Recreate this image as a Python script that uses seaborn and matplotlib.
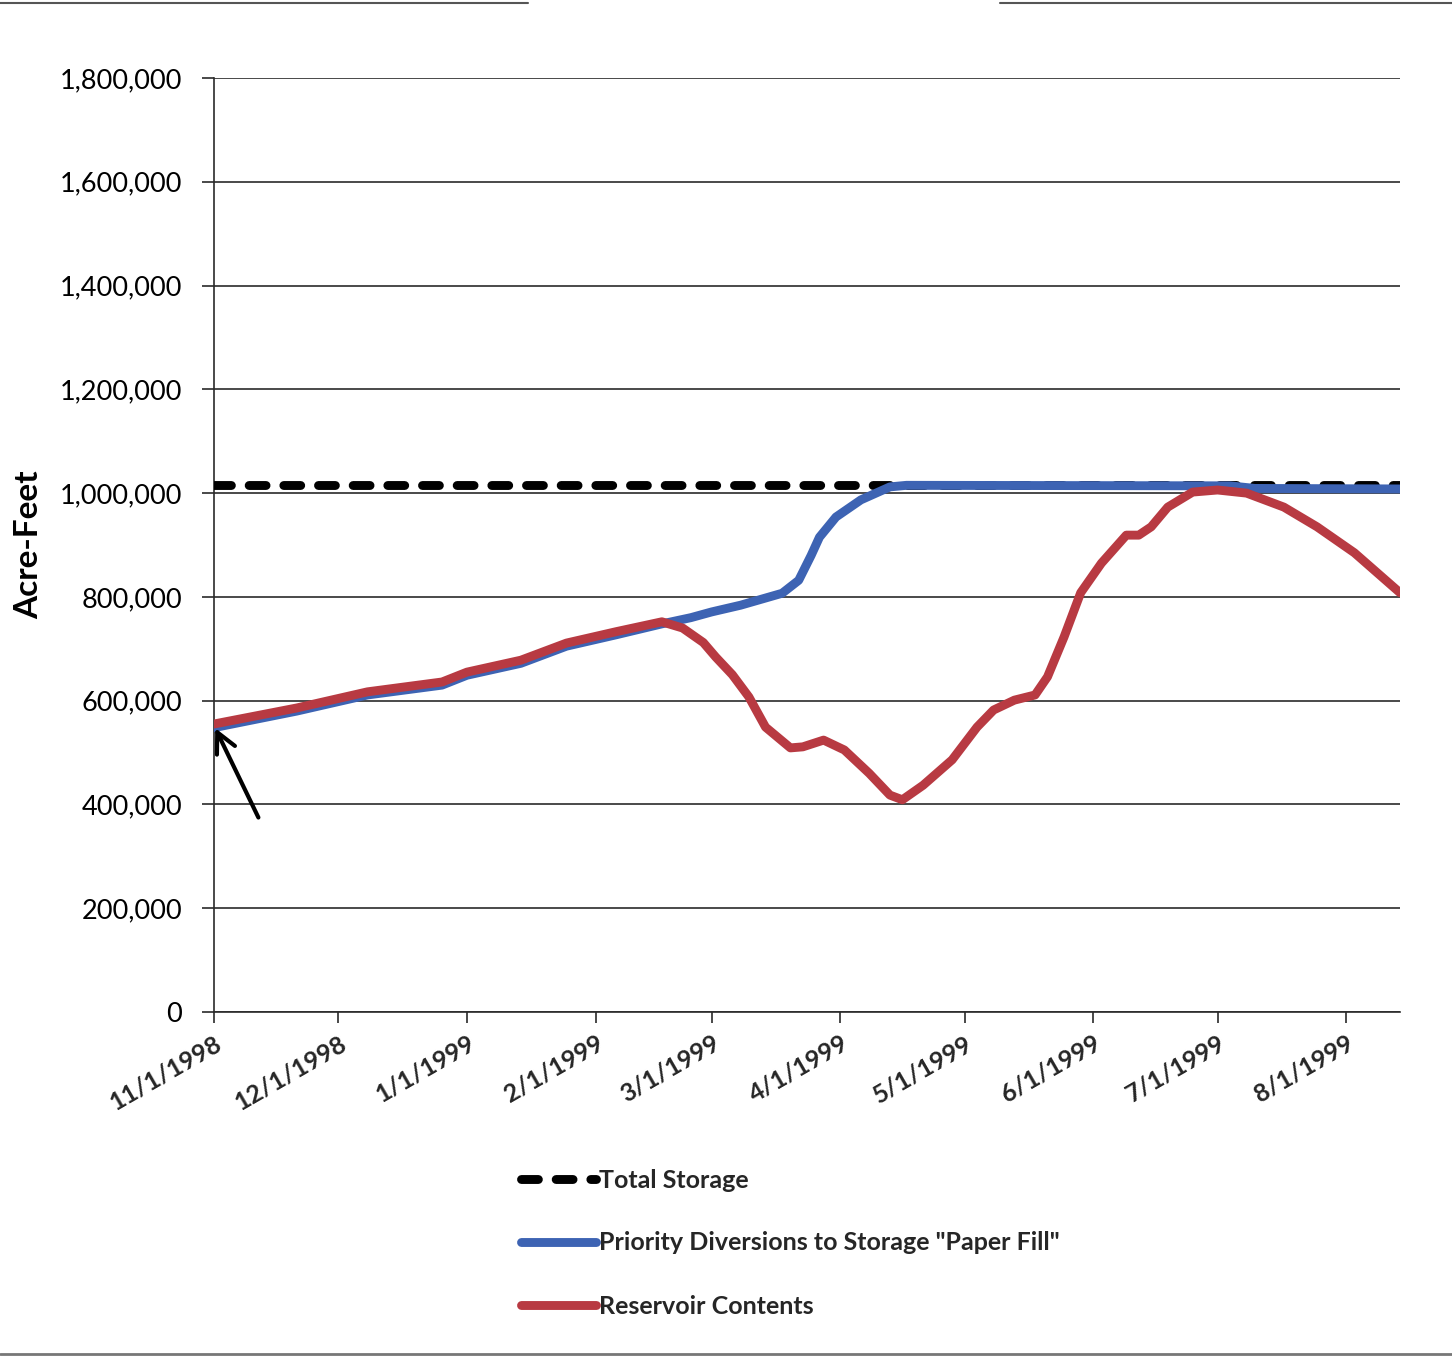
import matplotlib
matplotlib.use("Agg")
import matplotlib.pyplot as plt
from matplotlib.ticker import FuncFormatter
from matplotlib.lines import Line2D
import pandas as pd
import seaborn as sns

# ---------------- data ----------------
total_dates = ["1998-11-01", "1999-08-14"]
total_values = [1016000, 1016000]

paper_dates = ["1998-11-01", "1998-11-21", "1998-12-08", "1998-12-26", "1999-01-01",
               "1999-01-14", "1999-01-25", "1999-02-06", "1999-02-17", "1999-02-24",
               "1999-03-01", "1999-03-08", "1999-03-18", "1999-03-22", "1999-03-25",
               "1999-03-27", "1999-03-31", "1999-04-06", "1999-04-13", "1999-04-17",
               "1999-07-04", "1999-07-10", "1999-08-14"]
paper_values = [548000, 580000, 611000, 630000, 649000,
                672000, 705000, 727000, 748000, 760000,
                771000, 784000, 807000, 832000, 880000,
                915000, 954000, 987000, 1012000, 1015000,
                1014000, 1009000, 1008000]

res_dates = ["1998-11-01", "1998-11-21", "1998-12-08", "1998-12-26", "1999-01-01",
             "1999-01-14", "1999-01-25", "1999-02-06", "1999-02-17", "1999-02-22",
             "1999-02-27", "1999-03-02", "1999-03-06", "1999-03-10", "1999-03-14",
             "1999-03-20", "1999-03-23", "1999-03-28", "1999-04-02", "1999-04-08",
             "1999-04-13", "1999-04-16", "1999-04-21", "1999-04-28", "1999-05-04",
             "1999-05-08", "1999-05-13", "1999-05-18", "1999-05-21", "1999-05-25",
             "1999-05-29", "1999-06-03", "1999-06-09", "1999-06-12", "1999-06-15",
             "1999-06-19", "1999-06-25", "1999-07-01", "1999-07-08", "1999-07-17",
             "1999-07-25", "1999-08-03", "1999-08-14"]
res_values = [555000, 586000, 617000, 636000, 655000,
              678000, 711000, 733000, 752000, 740000,
              712000, 684000, 650000, 607000, 549000,
              509000, 511000, 524000, 505000, 460000,
              418000, 409000, 437000, 486000, 549000,
              582000, 601000, 611000, 646000, 723000,
              808000, 865000, 919000, 919000, 935000,
              973000, 1002000, 1006000, 1000000, 973000,
              935000, 885000, 808000]

tick_dates = ["1998-11-01", "1998-12-01", "1999-01-01", "1999-02-01", "1999-03-01",
              "1999-04-01", "1999-05-01", "1999-06-01", "1999-07-01", "1999-08-01"]
tick_labels = ["11/1/1998", "12/1/1998", "1/1/1999", "2/1/1999", "3/1/1999",
               "4/1/1999", "5/1/1999", "6/1/1999", "7/1/1999", "8/1/1999"]
y_ticks = [0, 200000, 400000, 600000, 800000, 1000000, 1200000, 1400000, 1600000, 1800000]

series_names = ["Total Storage", "Priority Diversions to Storage \"Paper Fill\"", "Reservoir Contents"]

# ---------------- style ----------------
sns.set_theme(style="white")
plt.rcParams['font.family'] = ['Lato', 'DejaVu Sans']

W, H, DPI = 1452, 1356, 100
fig = plt.figure(figsize=(W / DPI, H / DPI), dpi=DPI, facecolor="white")
ax = fig.add_axes([214 / W, 1 - 1012 / H, (1400 - 214) / W, (1012 - 78) / H])

LW = 6.4
BLUE = "#3d63b3"
RED = "#b83a42"
DASH = (0, (1.9, 2.0))

df_t = pd.DataFrame({"date": pd.to_datetime(total_dates), "v": total_values})
df_p = pd.DataFrame({"date": pd.to_datetime(paper_dates), "v": paper_values})
df_r = pd.DataFrame({"date": pd.to_datetime(res_dates), "v": res_values})

sns.lineplot(data=df_t, x="date", y="v", ax=ax, color="black", lw=LW,
             estimator=None, zorder=3, legend=False)
tline = ax.get_lines()[-1]
tline.set_linestyle(DASH)
tline.set_dash_capstyle("round")

sns.lineplot(data=df_p, x="date", y="v", ax=ax, color=BLUE, lw=LW,
             estimator=None, zorder=4, legend=False)
pline = ax.get_lines()[-1]
pline.set_solid_capstyle("round")
pline.set_solid_joinstyle("round")

sns.lineplot(data=df_r, x="date", y="v", ax=ax, color=RED, lw=LW,
             estimator=None, zorder=5, legend=False)
rline = ax.get_lines()[-1]
rline.set_solid_capstyle("round")
rline.set_solid_joinstyle("round")

# axes
ax.set_xlim(pd.Timestamp("1998-11-01"), pd.Timestamp("1999-08-14"))
ax.set_ylim(0, 1800000)
ax.set_yticks(y_ticks)
ax.yaxis.set_major_formatter(FuncFormatter(lambda v, p: f"{v:,.0f}"))
ax.set_xticks(pd.to_datetime(tick_dates))
ax.set_xticklabels(tick_labels)

ax.yaxis.grid(True, color="#2a2a2a", lw=1.2)
ax.xaxis.grid(False)
for s in ["top", "right"]:
    ax.spines[s].set_visible(False)
for s in ["left", "bottom"]:
    ax.spines[s].set_color("#2a2a2a")
    ax.spines[s].set_linewidth(1.2)

ax.tick_params(axis="y", direction="out", length=9, width=1.2, color="#2a2a2a",
               labelsize=19.5, pad=14, left=True)
ax.tick_params(axis="x", direction="out", length=8, width=1.2, color="#2a2a2a",
               labelsize=18, pad=6, bottom=True)
for lab in ax.get_xticklabels():
    lab.set_rotation(30)
    lab.set_ha("right")
    lab.set_va("top")
    lab.set_rotation_mode("anchor")
    lab.set_fontweight("bold")
for lab in ax.get_yticklabels():
    lab.set_color("black")

ax.set_xlabel("")
ax.set_ylabel("Acre-Feet", fontsize=24, fontweight="bold", labelpad=12, color="black")

# arrow
ax.annotate("", xy=(pd.Timestamp("1998-11-01"), 552000),
            xytext=(pd.Timestamp("1998-11-12"), 370000),
            arrowprops=dict(arrowstyle="->", color="black", lw=3.0, mutation_scale=36),
            zorder=6)

# legend
handles = [
    Line2D([], [], color="black", lw=LW, linestyle=DASH, dash_capstyle="round"),
    Line2D([], [], color=BLUE, lw=LW),
    Line2D([], [], color=RED, lw=LW),
]
leg = fig.legend(handles, series_names, loc="upper left",
                 bbox_to_anchor=(498 / W, 1 - 1146 / H), frameon=False,
                 handlelength=3.0, handletextpad=0.15, labelspacing=1.6,
                 prop={"family": ["Lato", "DejaVu Sans"], "weight": "bold", "size": 18})

# scan edge lines
fig.add_artist(Line2D([0, 528 / W], [1 - 3 / H, 1 - 3 / H], color="#555555", lw=1.5,
                      transform=fig.transFigure))
fig.add_artist(Line2D([1000 / W, 1], [1 - 3 / H, 1 - 3 / H], color="#555555", lw=1.5,
                      transform=fig.transFigure))
fig.add_artist(Line2D([0, 1], [1 - 1354 / H, 1 - 1354 / H], color="#777777", lw=2,
                      transform=fig.transFigure))

fig.savefig("out.png", dpi=DPI, facecolor="white")
